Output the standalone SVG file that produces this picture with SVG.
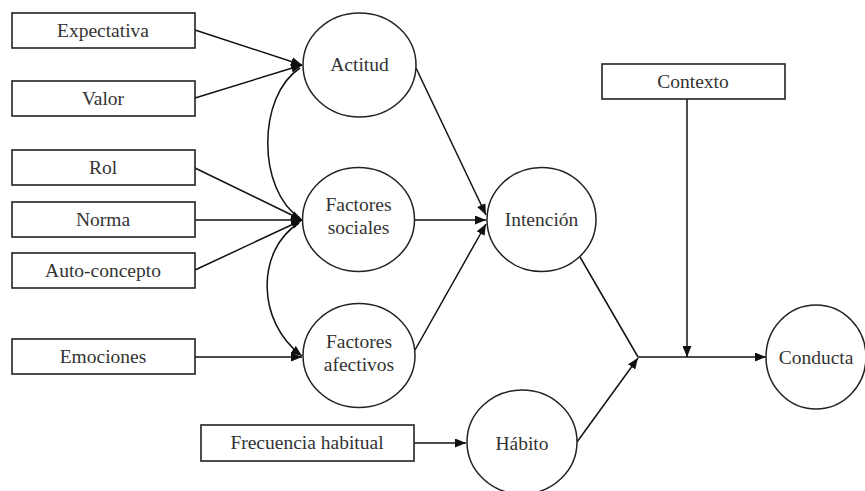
<svg xmlns="http://www.w3.org/2000/svg" width="865" height="491" viewBox="0 0 865 491">
<style>
.box{fill:#fff;stroke:#222;stroke-width:1.6}
.node{fill:#fff;stroke:#222;stroke-width:1.5}
text{font-family:'Liberation Serif','Times New Roman','DejaVu Serif',serif;font-size:19.5px;fill:#333;text-anchor:middle}
.c{fill:none;stroke:#111;stroke-width:1.5}
</style>
<defs>
<marker id="ah" markerUnits="userSpaceOnUse" markerWidth="12" markerHeight="9" refX="11" refY="4.5" orient="auto">
<path d="M0,0 L11,4.5 L0,9 z" fill="#111"/>
</marker>
</defs>
<rect width="865" height="491" fill="#fff"/>
<g id="connectors">
<line class="c" x1="195" y1="30" x2="302" y2="65" marker-end="url(#ah)"/>
<line class="c" x1="195" y1="98" x2="302" y2="65" marker-end="url(#ah)"/>
<line class="c" x1="195" y1="168" x2="302" y2="220" marker-end="url(#ah)"/>
<line class="c" x1="195" y1="220" x2="302" y2="220" marker-end="url(#ah)"/>
<line class="c" x1="195" y1="270" x2="302" y2="220" marker-end="url(#ah)"/>
<line class="c" x1="195" y1="357" x2="302" y2="357" marker-end="url(#ah)"/>
<path class="c" d="M300,68 C257,96 257,190 300,218"/>
<path class="c" d="M299,223 C256,250 256,322 302,356" marker-end="url(#ah)"/>
<line class="c" x1="416" y1="68" x2="486" y2="215" marker-end="url(#ah)"/>
<line class="c" x1="414" y1="220" x2="486" y2="220" marker-end="url(#ah)"/>
<line class="c" x1="415" y1="350" x2="486" y2="224" marker-end="url(#ah)"/>
<line class="c" x1="580" y1="257" x2="638" y2="357"/>
<line class="c" x1="577" y1="442" x2="638" y2="358" marker-end="url(#ah)"/>
<line class="c" x1="638" y1="357" x2="766" y2="357" marker-end="url(#ah)"/>
<line class="c" x1="687" y1="99" x2="687" y2="357" marker-end="url(#ah)"/>
<line class="c" x1="414" y1="443" x2="466" y2="443" marker-end="url(#ah)"/>
</g>
<g id="expectativa"><rect class="box" x="12" y="13" width="183" height="35"/><text x="103" y="37">Expectativa</text></g>
<g id="valor"><rect class="box" x="12" y="81" width="183" height="35"/><text x="103" y="105">Valor</text></g>
<g id="rol"><rect class="box" x="12" y="150" width="183" height="35"/><text x="103" y="174">Rol</text></g>
<g id="norma"><rect class="box" x="12" y="202" width="183" height="35"/><text x="103" y="226">Norma</text></g>
<g id="autoconcepto"><rect class="box" x="12" y="253" width="183" height="35"/><text x="103" y="277">Auto-concepto</text></g>
<g id="emociones"><rect class="box" x="12" y="339" width="183" height="35"/><text x="103" y="363">Emociones</text></g>
<g id="frecuencia"><rect class="box" x="201" y="425" width="213" height="36"/><text x="307" y="449">Frecuencia habitual</text></g>
<g id="contexto"><rect class="box" x="602" y="64" width="183" height="35"/><text x="693" y="88">Contexto</text></g>
<g id="actitud"><ellipse class="node" cx="359.5" cy="65" rx="56.5" ry="52"/><text x="359.5" y="71">Actitud</text></g>
<g id="sociales"><ellipse class="node" cx="358.5" cy="219.5" rx="56" ry="52"/><text x="358.5" y="211">Factores</text><text x="358.5" y="234">sociales</text></g>
<g id="afectivos"><ellipse class="node" cx="359" cy="355.5" rx="56" ry="52"/><text x="359" y="348">Factores</text><text x="359" y="371">afectivos</text></g>
<g id="intencion"><ellipse class="node" cx="541.5" cy="219.5" rx="54.5" ry="52"/><text x="541.5" y="226">Intención</text></g>
<g id="habito"><ellipse class="node" cx="522" cy="442" rx="55" ry="52"/><text x="522" y="450">Hábito</text></g>
<g id="conducta"><ellipse class="node" cx="816" cy="357" rx="50" ry="52"/><text x="816" y="364">Conducta</text></g>
</svg>
